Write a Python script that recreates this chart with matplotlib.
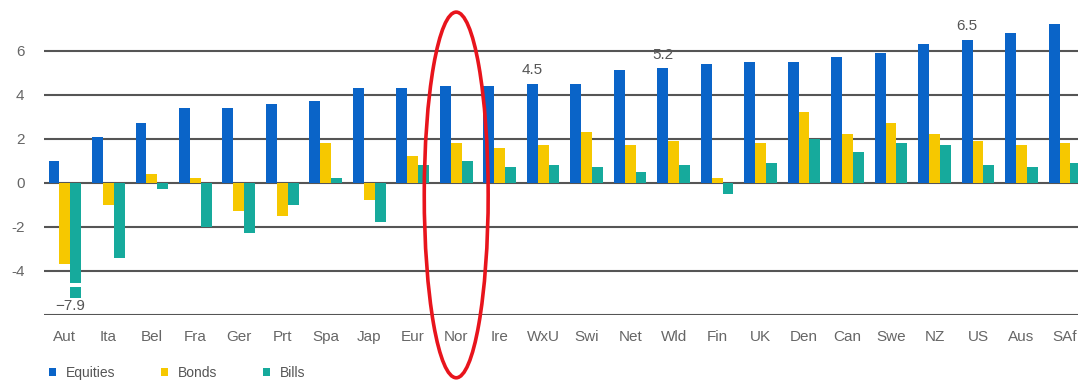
import numpy as np
import matplotlib
matplotlib.use('Agg')
import matplotlib.pyplot as plt
from matplotlib.patches import Ellipse, Rectangle

plt.rcParams['font.family'] = ['Liberation Sans', 'DejaVu Sans']

# Annualised real returns by market
countries = ['Aut', 'Ita', 'Bel', 'Fra', 'Ger', 'Prt', 'Spa', 'Jap', 'Eur', 'Nor',
             'Ire', 'WxU', 'Swi', 'Net', 'Wld', 'Fin', 'UK', 'Den', 'Can', 'Swe',
             'NZ', 'US', 'Aus', 'SAf']
equities = [1.0, 2.1, 2.7, 3.4, 3.4, 3.6, 3.7, 4.3, 4.3, 4.4,
            4.4, 4.5, 4.5, 5.1, 5.2, 5.4, 5.5, 5.5, 5.7, 5.9,
            6.3, 6.5, 6.8, 7.2]
bonds = [-3.7, -1.0, 0.4, 0.2, -1.3, -1.5, 1.8, -0.8, 1.2, 1.8,
         1.6, 1.7, 2.3, 1.7, 1.9, 0.2, 1.8, 3.2, 2.2, 2.7,
         2.2, 1.9, 1.7, 1.8]
bills = [-7.9, -3.4, -0.3, -2.0, -2.3, -1.0, 0.2, -1.8, 0.8, 1.0,
         0.7, 0.8, 0.7, 0.5, 0.8, -0.5, 0.9, 2.0, 1.4, 1.8,
         1.7, 0.8, 0.7, 0.9]
labelled = {'WxU': 4.5, 'Wld': 5.2, 'US': 6.5}

c_eq = '#0a64c8'
c_bd = '#f6c800'
c_bl = '#16aa9c'
grey = '#555555'

fig = plt.figure(figsize=(10.78, 3.81), dpi=100)
ax = fig.add_axes([44 / 1078, 66 / 381, 1 - 44 / 1078, 1 - 66 / 381])

x = np.arange(len(countries))
w = 0.25
ax.bar(x - w, equities, w, color=c_eq, label='Equities', zorder=3)
ax.bar(x, bonds, w, color=c_bd, label='Bonds', zorder=3)
bl = ax.bar(x + w, bills, w, color=c_bl, label='Bills', zorder=3)

# Austria's bill bar runs off the scale: cut it short with a break
aut = bl[0]
clip = Rectangle((-1, -5.25), 3, 20, transform=ax.transData)
aut.set_clip_path(clip)
ax.add_patch(Rectangle((x[0], -4.75), 2 * w, 0.22, facecolor='white',
                       edgecolor='none', zorder=4))
ax.text(x[0] + 0.13, -5.6, '\u22127.9', ha='center', va='center',
        fontsize=11, color=grey, zorder=5)

for name, val in labelled.items():
    i = countries.index(name)
    ax.text(x[i] - w, val + 0.3, f'{val}', ha='center', va='bottom',
            fontsize=11, color=grey, zorder=5)

ax.set_ylim(-6, 8.3)
ax.set_xlim(-0.48, 23.3)
ax.set_yticks([-6, -4, -2, 0, 2, 4, 6])
ax.set_yticklabels(['', '-4', '-2', '0', '2', '4', '6'])
ax.set_xticks(x)
ax.set_xticklabels(countries)
ax.tick_params(axis='both', length=0, labelsize=11, labelcolor='#666666')
ax.tick_params(axis='x', pad=11)
ax.tick_params(axis='y', pad=14)
for v in [-6, -4, -2, 0, 2, 4, 6]:
    ax.axhline(v, color=grey, lw=1.5, zorder=1)
for s in ax.spines.values():
    s.set_visible(False)

leg = ax.legend(loc='lower left', bbox_to_anchor=(-0.007, -0.245), ncol=3,
                frameon=False, fontsize=10, handlelength=0.5, handleheight=0.5,
                handletextpad=0.7, columnspacing=3.3, labelcolor='#555555')

# Highlight Norway
ax.add_patch(Ellipse((x[9], -0.55), 1.47, 16.6, fill=False, edgecolor='#e8141c',
                     lw=2.6, clip_on=False, zorder=6))

fig.savefig('out.png', dpi=100)
